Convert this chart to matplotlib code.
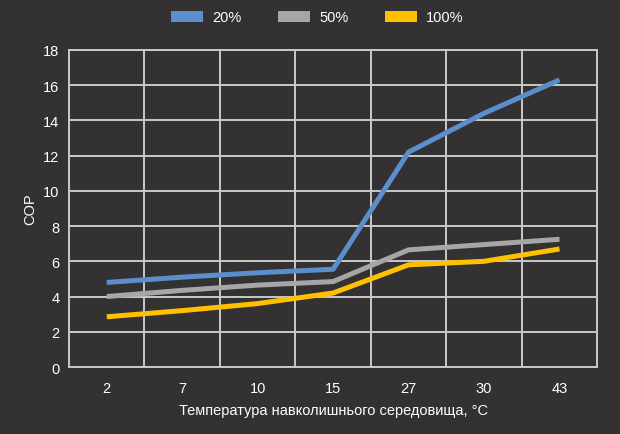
import numpy as np
import matplotlib.pyplot as plt
from matplotlib.patches import Patch

# значення
temps = ["2", "7", "10", "15", "27", "30", "43"]
cop_20 = [4.8, 5.1, 5.35, 5.55, 12.2, 14.4, 16.3]
cop_50 = [4.0, 4.35, 4.65, 4.85, 6.65, 6.95, 7.25]
cop_100 = [2.85, 3.2, 3.6, 4.2, 5.8, 6.0, 6.7]
series_names = ["20%", "50%", "100%"]
y_ticks = [0, 2, 4, 6, 8, 10, 12, 14, 16, 18]

bg = "#333132"
grid_c = "#c9c9c9"
colors = ["#5b8fcc", "#a6a6a6", "#ffc000"]

plt.rcParams["font.family"] = ["Liberation Sans", "DejaVu Sans"]

fig = plt.figure(figsize=(6.2, 4.35), dpi=100, facecolor=bg)
ax = fig.add_axes([0.1113, 0.154, 0.852, 0.729], facecolor=bg)

x = np.arange(len(temps))
for vals, c in zip([cop_20, cop_50, cop_100], colors):
    ax.plot(x, vals, color=c, lw=3.6, solid_capstyle="butt", zorder=3)

ax.set_xlim(-0.5, len(temps) - 0.5)
ax.set_ylim(0, 18)
ax.set_xticks(x)
ax.set_xticklabels(temps)
ax.set_xticks(np.arange(0.5, len(temps) - 1, 1), minor=True)
ax.set_yticks(y_ticks)

ax.grid(True, axis="y", which="major", color=grid_c, lw=1.4)
ax.grid(True, axis="x", which="minor", color=grid_c, lw=1.4)
ax.set_axisbelow(True)

ax.tick_params(axis="both", which="both", length=0, colors="white", labelsize=10.5)
ax.tick_params(axis="x", pad=10)
ax.tick_params(axis="y", pad=7)
for s in ax.spines.values():
    s.set_color(grid_c)
    s.set_linewidth(1.4)

ax.set_ylabel("COP", color="white", fontsize=10.5, labelpad=4)
ax.set_xlabel("Температура навколишнього середовища, °C", color="white",
              fontsize=10.5, labelpad=6)

handles = [Patch(facecolor=c, edgecolor="none") for c in colors]
fig.legend(handles, series_names, loc="upper center", bbox_to_anchor=(0.512, 1.004),
           ncol=3, frameon=False, fontsize=10.5, labelcolor="white",
           handlelength=2.2, handleheight=0.75, columnspacing=2.5, handletextpad=0.62)

fig.savefig("out.png", dpi=100, facecolor=bg)
